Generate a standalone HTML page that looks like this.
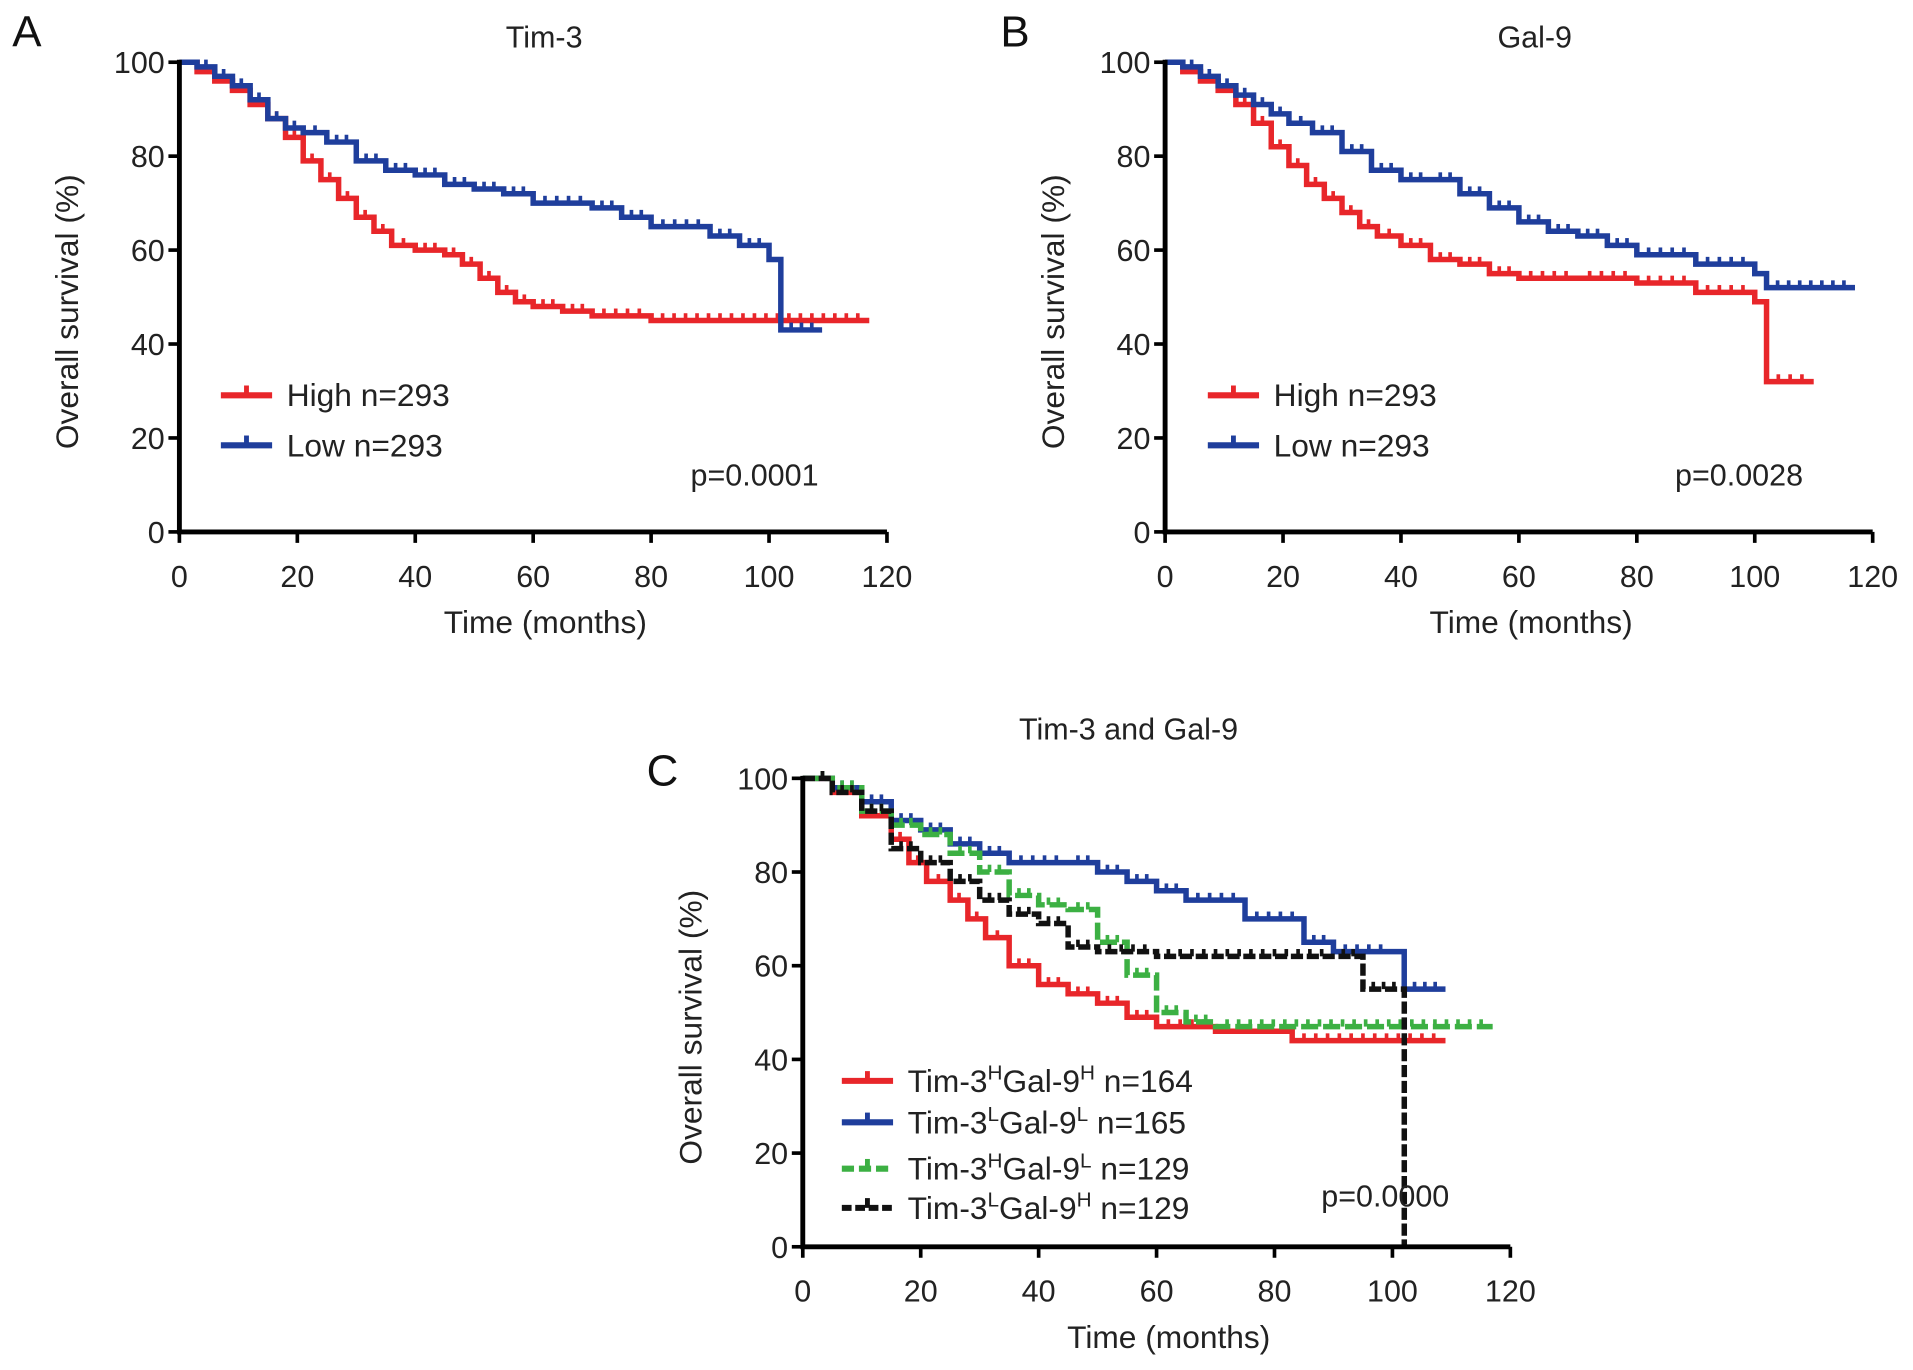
<!DOCTYPE html>
<html><head><meta charset="utf-8"><style>
html,body{margin:0;padding:0;background:#fff}
svg{display:block;font-family:"Liberation Sans",Arial,sans-serif}
</style></head><body>
<svg id="fig" width="1913" height="1370" viewBox="0 0 1568 1123"></svg>
<script>
// ---- data (time in months, survival %) ----
const aHighT=[0,3,6,9,12,15,18,21,24,27,30,33,36,40,45,48,51,54,57,60,65,70,80,117];
const aHighS=[100,98,96,94,91,88,84,79,75,71,67,64,61,60,59,57,54,51,49,48,47,46,45,45];
const aLowT=[0,3,6,9,12,15,18,21,25,30,35,40,45,50,55,60,70,75,80,90,95,100,102,109];
const aLowS=[100,99,97,95,92,88,86,85,83,79,77,76,74,73,72,70,69,67,65,63,61,58,43,43];
const bHighT=[0,3,6,9,12,15,18,21,24,27,30,33,36,40,45,50,55,60,70,80,90,100,102,110];
const bHighS=[100,98,96,94,91,87,82,78,74,71,68,65,63,61,58,57,55,54,54,53,51,49,32,32];
const bLowT=[0,3,6,9,12,15,18,21,25,30,35,40,45,50,55,60,65,70,75,80,90,100,102,117];
const bLowS=[100,99,97,95,93,91,89,87,85,81,77,75,75,72,69,66,64,63,61,59,57,55,52,52];
const cRedT=[0,5,10,15,18,21,25,28,31,35,40,45,50,55,60,70,83,109];
const cRedS=[100,97,92,87,82,78,74,70,66,60,56,54,52,49,47,46,44,44];
const cBlueT=[0,5,10,15,20,25,30,35,45,50,55,60,65,75,85,90,100,102,109];
const cBlueS=[100,98,95,91,89,86,84,82,82,80,78,76,74,70,65,63,63,55,55];
const cGreenT=[0,5,10,15,20,25,30,35,40,45,50,55,60,65,70,117];
const cGreenS=[100,98,93,90,88,84,80,75,73,72,65,58,50,48,47,47];
const cBlackT=[0,5,10,15,20,25,30,35,40,45,50,60,90,95,102,102.01];
const cBlackS=[100,97,93,85,82,78,74,71,69,64,63,62,62,55,55,0];
const xTicks=[0,20,40,60,80,100,120];
const yTicks=[0,20,40,60,80,100];

const NS="http://www.w3.org/2000/svg";
const svg=document.getElementById('fig');
function el(tag,attrs,parent,txt){const e=document.createElementNS(NS,tag);for(const k in attrs)e.setAttribute(k,attrs[k]);if(txt!==undefined)e.textContent=txt;(parent||svg).appendChild(e);return e;}

function panel(p){
  const g=el('g',{});
  
  
  const xs=t=>p.x0+(t/120)*(p.x1-p.x0);
  const ys=s=>p.y0-(s/100)*(p.y0-p.y1);
  p.series.forEach(sr=>{
    let d='M'+xs(sr.t[0])+','+ys(sr.s[0]);
    for(let i=1;i<sr.t.length;i++){d+=' H'+xs(sr.t[i])+' V'+ys(sr.s[i]);}
    const path=el('path',{d:d,fill:'none',stroke:sr.c,'stroke-width':4.5,'stroke-dasharray':sr.dash||'none'},g);
    
    
    for(let i=1;i<sr.t.length;i++){
      const a=sr.t[i-1],b=sr.t[i];
      const n=Math.max(1,Math.round((b-a)/2));
      for(let k=1;k<n;k++){
        const tt=a+(b-a)*k/n; if(tt<3) continue;
        const tk=el('line',{x1:xs(tt),x2:xs(tt),y1:ys(sr.s[i-1])-6,y2:ys(sr.s[i-1]),stroke:sr.c,'stroke-width':3},g);
        
        
      }
    }
  });
  const ax=el('path',{d:`M${p.x0},${p.y1-2} V${p.y0} H${p.x1}`,fill:'none',stroke:'#000','stroke-width':4},g);
  
  
  xTicks.forEach(v=>{
    el('line',{x1:xs(v),x2:xs(v),y1:p.y0,y2:p.y0+9,stroke:'#000','stroke-width':3},g);
    const t=el('text',{x:xs(v),y:p.y0+45,'font-size':25,'text-anchor':'middle',fill:'#222'},g,v);
    
    
  });
  yTicks.forEach(v=>{
    el('line',{x1:p.x0-9,x2:p.x0,y1:ys(v),y2:ys(v),stroke:'#000','stroke-width':3},g);
    const t=el('text',{x:p.x0-12,y:ys(v)+9,'font-size':25,'text-anchor':'end',fill:'#222'},g,v);
    
    
  });
  const xt=el('text',{x:(p.x0+p.x1)/2+10,y:p.y0+83,'font-size':26,'text-anchor':'middle',fill:'#222'},g,'Time (months)');
  
  
  const cy=(p.y0+p.y1)/2+12;
  const yt=el('text',{x:p.x0-83,y:cy,'font-size':26,'text-anchor':'middle',fill:'#222',transform:`rotate(-90 ${p.x0-83} ${cy})`},g,'Overall survival (%)');
  
  
  const ti=el('text',{x:p.tx,y:p.ty,'font-size':25,'text-anchor':'middle',fill:'#222'},g,p.title);
  
  
  const lt=el('text',{x:p.lx,y:p.ly,'font-size':36,fill:'#111'},g,p.letter);
  
  
  const pv=el('text',{x:p.px,y:p.py,'font-size':25,fill:'#222'},g,p.pval);
  
  
  p.legend.forEach((L,i)=>{
    const y=p.legY+i*p.legDy[i];
    const lg=el('g',{},g);
    
    
    el('line',{x1:p.legX,x2:p.legX+42,y1:y,y2:y,stroke:L.c,'stroke-width':5,'stroke-dasharray':L.dash||'none'},lg);
    el('line',{x1:p.legX+21,x2:p.legX+21,y1:y-8,y2:y,stroke:L.c,'stroke-width':4},lg);
    const tx=el('text',{x:p.legX+54,y:y+9,'font-size':26,fill:'#222'},lg);
    L.parts.forEach(pt=>{el('tspan',pt.sup?{'font-size':17,dy:-10}:(pt.down?{dy:10}:{}),tx,pt.t);});
  });
}

panel({name:'panel-a',x0:147,x1:727,y0:436,y1:51,tx:446,ty:39,title:'Tim-3',lx:10,ly:38,letter:'A',px:566,py:398,pval:'p=0.0001',
  series:[{name:'high',t:aHighT,s:aHighS,c:'#e8262a'},{name:'low',t:aLowT,s:aLowS,c:'#1f3e9c'}],
  legX:181,legY:324,legDy:[0,41],legend:[{c:'#e8262a',parts:[{t:'High n=293'}]},{c:'#1f3e9c',parts:[{t:'Low n=293'}]}]});
panel({name:'panel-b',x0:955,x1:1535,y0:436,y1:51,tx:1258,ty:39,title:'Gal-9',lx:820,ly:38,letter:'B',px:1373,py:398,pval:'p=0.0028',
  series:[{name:'high',t:bHighT,s:bHighS,c:'#e8262a'},{name:'low',t:bLowT,s:bLowS,c:'#1f3e9c'}],
  legX:990,legY:324,legDy:[0,41],legend:[{c:'#e8262a',parts:[{t:'High n=293'}]},{c:'#1f3e9c',parts:[{t:'Low n=293'}]}]});
panel({name:'panel-c',x0:658,x1:1238,y0:1022,y1:638,tx:925,ty:606,title:'Tim-3 and Gal-9',lx:530,ly:644,letter:'C',px:1083,py:989,pval:'p=0.0000',
  series:[{name:'hh',t:cRedT,s:cRedS,c:'#e8262a'},{name:'ll',t:cBlueT,s:cBlueS,c:'#1f3e9c'},{name:'hl',t:cGreenT,s:cGreenS,c:'#3cb043',dash:'14 4'},{name:'lh',t:cBlackT,s:cBlackS,c:'#111',dash:'10 3'}],
  legX:690,legY:886,legDy:[0,34,36,34.7],legend:[
   {c:'#e8262a',parts:[{t:'Tim-3'},{t:'H',sup:1},{t:'Gal-9',down:1},{t:'H',sup:1},{t:' n=164',down:1}]},
   {c:'#1f3e9c',parts:[{t:'Tim-3'},{t:'L',sup:1},{t:'Gal-9',down:1},{t:'L',sup:1},{t:' n=165',down:1}]},
   {c:'#3cb043',dash:'10 4',parts:[{t:'Tim-3'},{t:'H',sup:1},{t:'Gal-9',down:1},{t:'L',sup:1},{t:' n=129',down:1}]},
   {c:'#111',dash:'8 3',parts:[{t:'Tim-3'},{t:'L',sup:1},{t:'Gal-9',down:1},{t:'H',sup:1},{t:' n=129',down:1}]}]});
</script>
</body></html>
